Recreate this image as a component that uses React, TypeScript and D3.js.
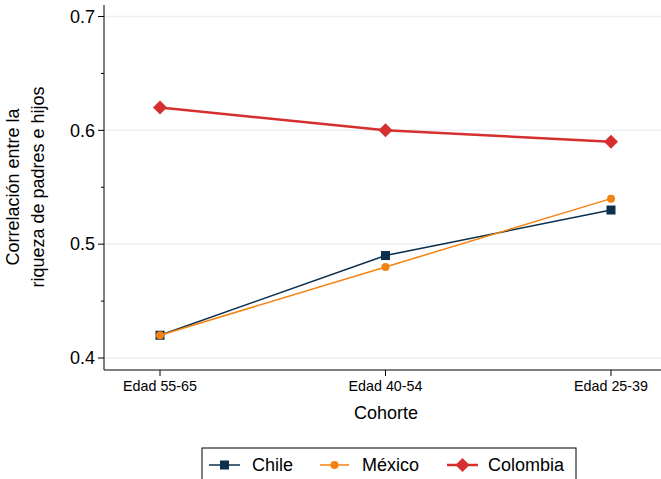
import React from "react";
import * as d3 from "d3";

const categories = ["Edad 55-65", "Edad 40-54", "Edad 25-39"];
const chile = [0.42, 0.49, 0.53];
const mexico = [0.42, 0.48, 0.54];
const colombia = [0.62, 0.6, 0.59];
const yTicks = [0.4, 0.5, 0.6, 0.7];
const yMinor = [0.45, 0.55, 0.65];

const W = 661, H = 479;
const FONT = "Arial, 'Liberation Sans', Helvetica, sans-serif";
const NAVY = "#0c2f4c";
const ORANGE = "#f5820f";
const RED = "#d62f2f";

export default function App() {
  const x = d3.scalePoint<string>().domain(categories).range([160, 611]);
  const y = d3.scaleLinear().domain([0.4, 0.7]).range([358, 16.5]);
  const line = d3
    .line<number>()
    .x((_, i) => x(categories[i]) as number)
    .y((d) => y(d));

  const axisLeft = 104;
  const axisBottom = 370;

  const diamond = (cx: number, cy: number, r: number) =>
    `M${cx},${cy - r}L${cx + r},${cy}L${cx},${cy + r}L${cx - r},${cy}Z`;

  return (
    <svg
      width={W}
      height={H}
      style={{ position: "absolute", left: 0, top: 0, background: "#fff" }}
      fontFamily={FONT}
    >
      <rect x={0} y={0} width={W} height={H} fill="#fff" />
      {/* gridlines */}
      {yTicks.map((t) => (
        <line key={"g" + t} x1={axisLeft} x2={W} y1={y(t)} y2={y(t)} stroke="#eaf0f3" strokeWidth={1.5} />
      ))}
      {/* axes */}
      <line x1={axisLeft} x2={axisLeft} y1={5} y2={axisBottom} stroke="#000" strokeWidth={1} />
      <line x1={axisLeft} x2={W} y1={axisBottom} y2={axisBottom} stroke="#000" strokeWidth={1} />
      {yTicks.map((t) => (
        <g key={"t" + t}>
          <line x1={axisLeft - 6} x2={axisLeft} y1={y(t)} y2={y(t)} stroke="#000" />
          <text x={axisLeft - 9} y={y(t)} dy="0.35em" textAnchor="end" fontSize={18} fill="#000">
            {d3.format(".1f")(t)}
          </text>
        </g>
      ))}
      {yMinor.map((t) => (
        <line key={"m" + t} x1={axisLeft - 3} x2={axisLeft} y1={y(t)} y2={y(t)} stroke="#000" />
      ))}
      {categories.map((c) => (
        <g key={c}>
          <line x1={x(c)} x2={x(c)} y1={axisBottom} y2={axisBottom + 6} stroke="#000" />
          <text x={x(c)} y={axisBottom + 21} textAnchor="middle" fontSize={14.3} fill="#000">
            {c}
          </text>
        </g>
      ))}
      <text x={386} y={419} textAnchor="middle" fontSize={18} fill="#000">
        Cohorte
      </text>
      <g transform="translate(19,187) rotate(-90)">
        <text x={0} y={0} textAnchor="middle" fontSize={18} fill="#000">
          Correlación entre la
        </text>
        <text x={0} y={25} textAnchor="middle" fontSize={18} fill="#000">
          riqueza de padres e hijos
        </text>
      </g>

      {/* series */}
      <path d={line(colombia) || ""} fill="none" stroke={RED} strokeWidth={2.5} />
      {colombia.map((v, i) => (
        <path key={"c" + i} d={diamond(x(categories[i]) as number, y(v), 7)} fill={RED} />
      ))}
      <path d={line(chile) || ""} fill="none" stroke={NAVY} strokeWidth={1.5} />
      {chile.map((v, i) => (
        <rect key={"ch" + i} x={(x(categories[i]) as number) - 4.5} y={y(v) - 4.5} width={9} height={9} fill={NAVY} />
      ))}
      <path d={line(mexico) || ""} fill="none" stroke={ORANGE} strokeWidth={1.5} />
      {mexico.map((v, i) => (
        <circle key={"mx" + i} cx={x(categories[i]) as number} cy={y(v)} r={4} fill={ORANGE} />
      ))}

      {/* legend */}
      <rect x={202} y={448} width={374} height={40} fill="#fff" stroke="#000" strokeWidth={1} />
      <g fontSize={18} fill="#000">
        <line x1={209} x2={240} y1={465} y2={465} stroke={NAVY} strokeWidth={1.5} />
        <rect x={220} y={460.5} width={9} height={9} fill={NAVY} />
        <text x={252} y={465} dy="0.35em">Chile</text>
        <line x1={320} x2={349} y1={465} y2={465} stroke={ORANGE} strokeWidth={1.5} />
        <circle cx={334.5} cy={465} r={4} fill={ORANGE} />
        <text x={362} y={465} dy="0.35em">México</text>
        <line x1={447} x2={478} y1={465} y2={465} stroke={RED} strokeWidth={2.5} />
        <path d={diamond(462.5, 465, 7)} fill={RED} />
        <text x={488} y={465} dy="0.35em">Colombia</text>
      </g>
    </svg>
  );
}
